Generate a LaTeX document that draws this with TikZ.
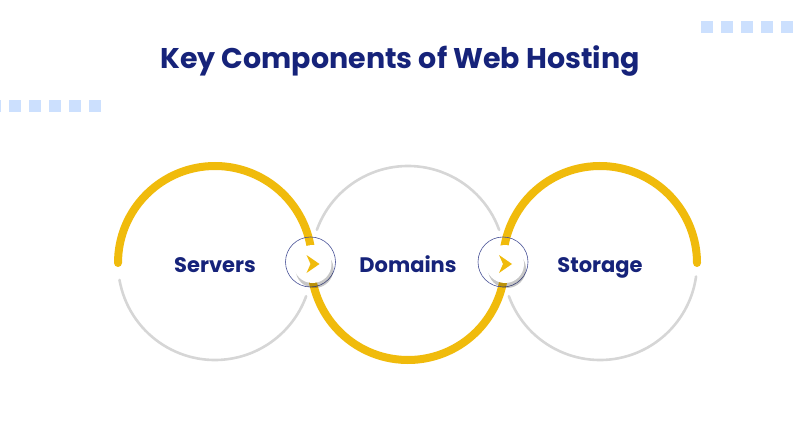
\documentclass[tikz,border=0pt]{standalone}
\usepackage{fontspec}
\setmainfont{Poppins}
\usepackage{tikz}
\usetikzlibrary{arrows.meta, positioning, calc, shadows}
\definecolor{hostnavy}{HTML}{16237A}
\definecolor{hostyellow}{HTML}{F0BB0C}
\definecolor{hostgray}{HTML}{D6D6D6}
\definecolor{hostdot}{HTML}{CCE0FE}

\begin{document}
\begin{tikzpicture}[x=1pt, y=1pt, font=\bfseries,
    yellowarc/.style={hostyellow, line width=8pt, line cap=round},
    grayarc/.style={hostgray, line width=2.6pt, line cap=round},
    label/.style={text=hostnavy, font=\fontsize{21}{24}\selectfont\bfseries, inner sep=0pt, anchor=base},
    stepdisc/.style={circle, fill=white, minimum size=38pt, inner sep=0pt,
        drop shadow={shadow xshift=2pt, shadow yshift=-5pt, opacity=0.22, fill=black}},
    dotsq/.style={fill=hostdot, minimum size=12pt, inner sep=0pt}]
    \useasboundingbox (0,0) rectangle (800,445);

    % title
    \node[text=hostnavy, font=\fontsize{28.5}{32}\selectfont\bfseries] (title) at (400,384) {Key Components of Web Hosting};

    % decorative squares
    \foreach \i in {0,...,4}
        \node[dotsq] (sqr\i) at (707+20*\i,418) {};
    \foreach \i in {0,...,5}
        \node[dotsq] (sql\i) at (-5+20*\i,339) {};

    \coordinate (c1) at (215,182);
    \coordinate (c2) at (408,182);
    \coordinate (c3) at (600,182);

    % gray halves
    \draw[grayarc] ([shift={(190:97)}]c1) arc[start angle=190, end angle=340, radius=97];
    \draw[grayarc] ([shift={(160:97)}]c2) arc[start angle=160, end angle=20, radius=97];
    \draw[grayarc] ([shift={(200:97)}]c3) arc[start angle=200, end angle=352, radius=97];

    % yellow halves
    \draw[yellowarc] ([shift={(180:97)}]c1) arc[start angle=180, end angle=-4, radius=97];
    \draw[yellowarc] ([shift={(176:97)}]c2) arc[start angle=176, end angle=364, radius=97];
    \draw[yellowarc] ([shift={(184:97)}]c3) arc[start angle=184, end angle=0, radius=97];

    % labels
    \node[label] (servers) at ($(c1)+(0,-9)$) {Servers};
    \node[label] (domains) at ($(c2)+(0,-9)$) {Domains};
    \node[label] (storage) at ($(c3)+(0,-9)$) {Storage};

    % step markers
    \foreach \n/\x in {s1/311.5, s2/504} {
        \draw[hostnavy!80, line width=0.6pt] (\x-1,183) circle[radius=25];
        \node[stepdisc] (\n) at (\x+1,181) {};
        \fill[hostyellow] ($(\n)+(7,0)$) -- ($(\n)+(-6,9)$) -- ($(\n)+(-2,0)$) -- ($(\n)+(-6,-9)$) -- cycle;
    }
\end{tikzpicture}
\end{document}
